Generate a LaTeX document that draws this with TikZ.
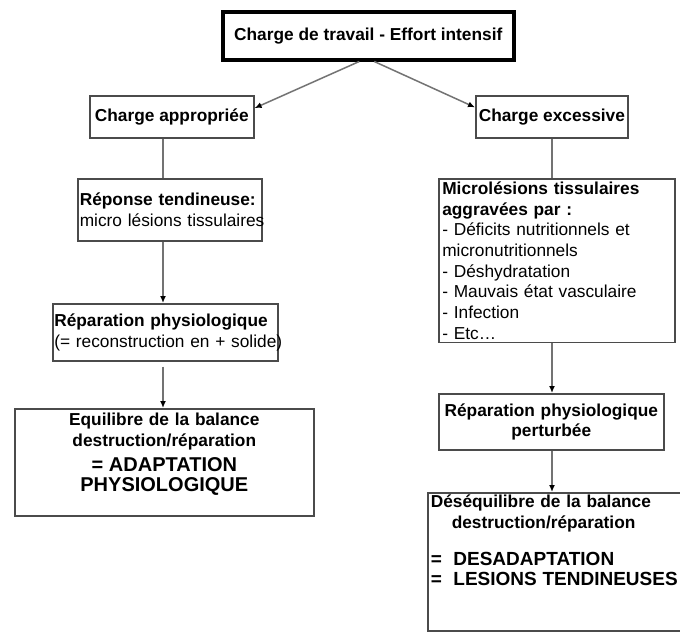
\documentclass[tikz,border=0pt]{standalone}
\usepackage{fontspec}
\setmainfont{Liberation Sans}
\usepackage{xcolor}
\usetikzlibrary{arrows.meta,calc,positioning}
\definecolor{linegray}{RGB}{115,115,115}
\definecolor{boxgray}{RGB}{75,75,75}

\begin{document}
\begin{tikzpicture}[x=1pt,y=-1pt,
boxnode/.style={rectangle, draw=boxgray, line width=1.6pt, fill=white, anchor=north west, inner xsep=3pt, inner ysep=2pt, font=\fontsize{17.3}{20.7}\selectfont},
topnode/.style={boxnode, draw=black, line width=3.5pt, font=\fontsize{17.3}{20.7}\selectfont\bfseries},
linkline/.style={draw=linegray, line width=1.5pt},
arrowline/.style={linkline, -{Latex[black,length=7pt,width=6pt]}},
]
\fill[white] (0,0) rectangle (680,633);
\useasboundingbox (0,0) rectangle (680,633);

%Nodes
\node[topnode, minimum width=291pt, minimum height=48pt] (maintopic) at (221,10) {Charge de travail - Effort intensif};
\node[boxnode, minimum width=164pt, minimum height=42pt] (approprie) at (89,95) {\textbf{Charge appropriée}};
\node[boxnode, minimum width=151pt, minimum height=42pt] (excessive) at (475,95) {\textbf{Charge excessive}};

\node[boxnode, text width=180pt, inner xsep=2pt, minimum height=62pt, align=left] (reponse) at (77,178)
  {\mbox{\textbf{Réponse tendineuse:}}\\\mbox{micro lésions tissulaires}};
\node[boxnode, text width=229pt, inner xsep=3.5pt, inner ysep=3pt, align=left] (microlesions) at (438,178)
  {\mbox{\textbf{Microlésions tissulaires}}\\\mbox{\textbf{aggravées par :}}\\\mbox{- Déficits nutritionnels et}\\\mbox{micronutritionnels}\\\mbox{- Déshydratation}\\\mbox{- Mauvais état vasculaire}\\\mbox{- Infection}\\\mbox{- Etc\dots}};

\node[boxnode, text width=222pt, inner xsep=1.5pt, minimum height=57pt, align=left] (repgauche) at (52,303)
  {\mbox{\textbf{Réparation physiologique}}\\\mbox{(= reconstruction en + solide)}};
\node[boxnode, text width=219pt, minimum height=56pt, align=center] (repdroite) at (438,393)
  {\textbf{Réparation physiologique}\\\textbf{perturbée}};

\node[boxnode, text width=293pt, inner ysep=4pt, align=center] (equilibre) at (14,408)
  {\textbf{Equilibre de la balance}\\\textbf{destruction/réparation}\par
   \fontsize{20}{25}\selectfont\textbf{= ADAPTATION}\\\textbf{PHYSIOLOGIQUE}\rule[-20pt]{0pt}{20pt}};
\node[boxnode, text width=290pt, align=left] (desequilibre) at (427,492)
  {\mbox{\textbf{Déséquilibre de la balance}}\\\hspace*{21pt}\textbf{destruction/réparation}\par\vspace{18.5pt}
   \fontsize{19}{18.5}\selectfont\mbox{\textbf{=\ \ DESADAPTATION}}\\\mbox{\textbf{=\ \ LESIONS TENDINEUSES}}\rule[-43pt]{0pt}{43pt}};

%Columns of the links
\coordinate (gauche) at (163,0);
\coordinate (droite) at (552,0);

%Lines
\draw[arrowline] ([xshift=-9pt]maintopic.south) -- (approprie.6);
\draw[arrowline] ([xshift=6pt]maintopic.south) -- (excessive.173);
\draw[linkline] (gauche |- approprie.south) -- (gauche |- reponse.north);
\draw[arrowline] (gauche |- reponse.south) -- (gauche |- repgauche.north);
\draw[arrowline, shorten <=5pt] (gauche |- repgauche.south) -- (gauche |- equilibre.north);
\draw[linkline] (droite |- excessive.south) -- (droite |- microlesions.north);
\draw[arrowline] (droite |- microlesions.south) -- (droite |- repdroite.north);
\draw[arrowline] (droite |- repdroite.south) -- (droite |- desequilibre.north);
\end{tikzpicture}
\end{document}
